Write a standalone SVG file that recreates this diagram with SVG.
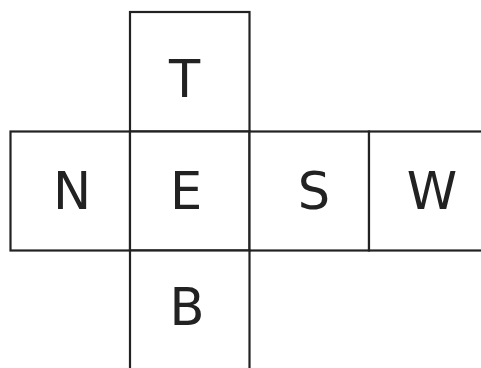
<svg xmlns="http://www.w3.org/2000/svg" width="481" height="368" viewBox="0 0 481 368">
<style>
.face rect{fill:#fff;stroke:#222;stroke-width:2.2}
.face text{font-family:"DejaVu Sans",sans-serif;font-size:51px;fill:#222;text-anchor:middle}
</style>
<rect width="481" height="368" fill="#fff"/>
<g id="T" class="face"><rect x="130" y="12" width="119.5" height="119.5"/><text x="184.5" y="97">T</text></g>
<g id="N" class="face"><rect x="10.5" y="131.5" width="119.5" height="119"/><text x="72" y="209">N</text></g>
<g id="E" class="face"><rect x="130" y="131.5" width="119.5" height="119"/><text x="186" y="209">E</text></g>
<g id="S" class="face"><rect x="249.5" y="131.5" width="119.5" height="119"/><text x="314" y="209">S</text></g>
<g id="W" class="face"><rect x="369" y="131.5" width="119.5" height="119"/><text x="432" y="209">W</text></g>
<g id="B" class="face"><rect x="130" y="250.5" width="119.5" height="119.5"/><text x="187" y="325">B</text></g>
<g id="connectors"></g>
</svg>
